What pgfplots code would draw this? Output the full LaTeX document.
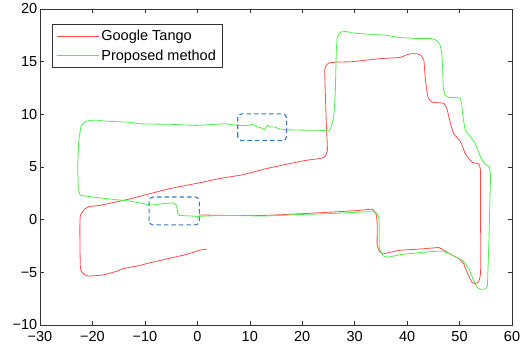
\documentclass[border=0pt]{standalone}
\usepackage{pgfplots}
\pgfplotsset{compat=1.18}
\usepackage{fontspec}
\setmainfont{Liberation Sans}
\definecolor{tango}{rgb}{1,0.3,0.3}
\definecolor{prop}{rgb}{0.3,0.95,0.3}
\definecolor{boxblue}{rgb}{0.22,0.47,0.78}
\begin{document}
\begin{tikzpicture}
\begin{axis}[
  name=ax,
  scale only axis, width=472pt, height=316pt,
  xmin=-30, xmax=60, ymin=-10, ymax=20,
  xtick={-30,-20,...,60}, ytick={-10,-5,...,20},
  xticklabels={−30,−20,−10,0,10,20,30,40,50,60},
  yticklabels={−10,−5,0,5,10,15,20},
  tick align=inside, major tick length=4pt,
  tick style={black!80, line width=0.5pt},
  axis line style={black!80, line width=0.6pt},
  ticklabel style={font=\fontsize{14.5}{16}\selectfont},
  xticklabel style={inner sep=1pt, yshift=-5pt},
  yticklabel style={inner sep=1pt, xshift=-1.5pt},
  legend style={at={(0,1)}, anchor=north west, xshift=12.3pt, yshift=-15.3pt,
    draw=black!80, line width=0.6pt, inner xsep=4pt, inner ysep=3.5pt,
    font=\fontsize{14.5}{16}\selectfont, row sep=3.5pt,
    nodes={inner sep=2pt}},
  legend cell align=left,
  legend image code/.code={\draw[#1, line width=0.8pt] (2pt,0pt) -- (44pt,0pt);},
  clip=false,
]
\addplot[tango, line width=0.8pt, smooth, tension=0.3] coordinates {
(0.2,0.45) (6,0.4) (13,0.41) (20,0.57) (25,0.7) (30.8,0.88) (32.7,0.98) (33.5,0.95) (34.1,0.5) (34.3,-0.5) (34.3,-2.5) (34.9,-3.1) (35.8,-3.2) (38.7,-2.9) (42.2,-2.8) (46.0,-2.65) (47.0,-2.9) (48.3,-3.3) (49.9,-3.7) (50.8,-4.2) (51.4,-4.97) (52.3,-5.9) (53.0,-6.07) (53.65,-5.9) (54.0,-5.1) (54.05,-3) (54.0,0) (54.0,3.75) (54.0,4.7) (53.65,5.3) (52.4,5.45) (51.1,6.25) (50.2,7.4) (48.9,8.15) (48.3,9.1) (47.6,10.5) (47.0,11.05) (44.8,11.15) (44.0,11.6) (43.5,13.2) (43.2,15.1) (42.6,15.6) (41.9,15.75) (40.6,15.75) (39.6,15.6) (38.7,15.4) (35.2,15.3) (31.4,15.1) (29.5,15.0) (26.3,14.95) (25.0,14.85) (24.4,14.5) (24.3,13.85) (24.55,9.7) (24.8,6.57) (24.2,5.94) (23.2,5.79) (20.7,5.63) (16.9,5.25) (13.1,4.84) (8.65,4.27) (4.2,3.9) (0.4,3.5) (-5.3,2.94) (-9.1,2.46) (-13.5,1.9) (-18.6,1.36) (-20.5,1.25) (-21.4,1.04) (-22.3,0.4) (-22.4,-1) (-22.3,-4.5) (-21.8,-5.1) (-20.8,-5.35) (-18,-5.25) (-15.4,-4.9) (-14.2,-4.65) (-11,-4.35) (-9.1,-4.1) (-2.1,-3.3) (0.4,-2.9) (1.8,-2.8)
};
\addlegendentry{Google Tango}
\addplot[prop, line width=0.8pt, smooth, tension=0.3] coordinates {
(0.1,0.0) (0.15,0.3) (2,0.35) (6,0.4) (13,0.35) (20,0.5) (25,0.57) (30,0.7) (33.3,0.76) (34.0,0.7) (34.5,0.4) (34.65,0) (34.7,-1) (34.7,-2.6) (35.0,-3.1) (35.5,-3.45) (36.5,-3.55) (37.5,-3.45) (39,-3.3) (42,-3.15) (44,-3.05) (46.7,-3.0) (48.3,-3.3) (49.5,-3.6) (50.5,-3.86) (51.3,-4.3) (51.8,-4.7) (52.2,-5.2) (52.7,-5.8) (53.0,-6.1) (53.5,-6.5) (54.0,-6.6) (54.6,-6.6) (55.0,-6.55) (55.3,-6.3) (55.4,-5) (55.6,-2) (55.8,2) (55.9,4.0) (55.7,5.0) (54.9,5.25) (54.0,5.95) (53.0,7.2) (52.1,7.85) (51.1,8.5) (50.6,10.0) (50.4,11.0) (50.0,11.55) (48.0,11.6) (47.3,11.8) (46.9,12.5) (46.8,14) (46.6,15.8) (46.2,16.7) (45.3,17.1) (44.3,17.2) (42,17.2) (40,17.25) (38.5,17.3) (36,17.5) (33,17.6) (30,17.7) (28.5,17.85) (27.3,17.8) (26.7,17.3) (26.5,16) (26.3,12) (26.0,9.8) (25.5,8.8) (25.1,8.4) (24.2,8.47) (20,8.5) (16.9,8.54) (15.6,8.63) (14.7,8.8) (14.0,8.8) (13.4,8.95) (12.8,8.54) (12.15,8.73) (11.2,8.85) (10.55,9.05) (9.9,8.95) (7.7,8.95) (5.2,9.1) (0,8.95) (-5,9.05) (-11,9.1) (-13,9.25) (-17.3,9.35) (-19.5,9.45) (-21.1,9.35) (-22.1,8.95) (-22.6,7.5) (-22.8,5) (-22.7,3.0) (-22.4,2.4) (-22.1,2.3) (-19.9,2.15) (-16.1,1.93) (-12.9,1.77) (-11,1.6) (-9.1,1.4) (-8.5,1.39) (-6.55,1.52) (-4.65,1.58) (-4.0,1.36) (-3.7,0.57) (-3.4,0.41) (-0.2,0.31) (0.1,0.12)
};
\addlegendentry{Proposed method}
\draw[boxblue, line width=1.1pt, dash pattern=on 4.5pt off 3pt, rounded corners=4pt]
  (axis cs:7.7,7.5) rectangle (axis cs:17,10.05);
\draw[boxblue, line width=1.1pt, dash pattern=on 4.5pt off 3pt, rounded corners=4pt]
  (axis cs:-9.2,-0.5) rectangle (axis cs:0.4,2.15);
\end{axis}
\pgfresetboundingbox
\path ([shift={(-40pt,-22pt)}]ax.south west) rectangle ([shift={(14pt,9pt)}]ax.north east);
\end{tikzpicture}
\end{document}
